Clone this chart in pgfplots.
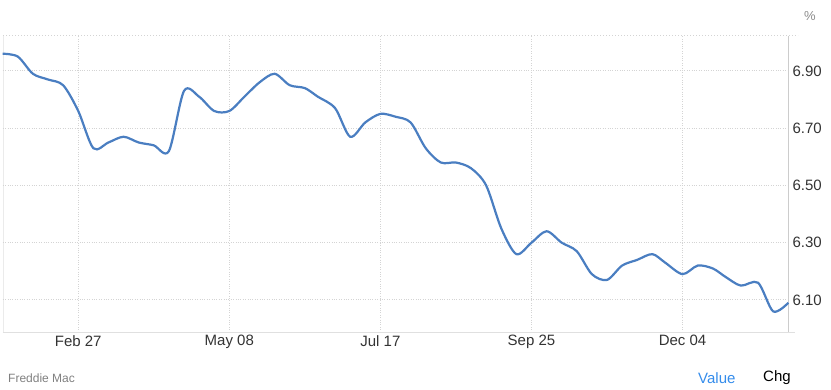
\documentclass[border=0pt]{standalone}
\usepackage{fontspec}
\setmainfont{Liberation Sans}
\usepackage{pgfplots}
\usepackage{pgfplotstable}
\pgfplotsset{compat=1.18}
\definecolor{linec}{RGB}{74,126,193}
\definecolor{gridc}{RGB}{212,212,212}
\definecolor{axc}{RGB}{204,204,204}
\definecolor{txt}{RGB}{51,51,51}
\definecolor{valc}{RGB}{52,140,235}
\pgfplotstableread{
day rate
0 6.96
7 6.95
14 6.89
21 6.87
28 6.85
35 6.76
42 6.63
49 6.65
56 6.67
63 6.65
70 6.64
77 6.62
84 6.83
91 6.81
98 6.76
105 6.76
112 6.81
119 6.86
126 6.89
133 6.85
140 6.84
146 6.81
154 6.77
161 6.67
168 6.72
175 6.75
182 6.74
189 6.72
196 6.63
203 6.58
210 6.58
217 6.56
224 6.50
231 6.35
238 6.26
245 6.30
252 6.34
259 6.30
266 6.27
273 6.19
280 6.17
287 6.22
294 6.24
301 6.26
307 6.23
315 6.19
322 6.22
329 6.21
335 6.18
342 6.15
350 6.16
357 6.06
364 6.09
}\ratedata
\begin{document}
\begin{tikzpicture}
\useasboundingbox (0pt,0pt) rectangle (831pt,390pt);
\draw[gridc, dotted, line width=1pt] (3pt,354pt) -- (798pt,354pt);
\draw[black!8] (2.7pt,58pt) -- (2.7pt,354pt);
\draw[black!12] (788pt,58pt) -- (795pt,58pt);
\begin{axis}[
  at={(2.7pt,58pt)}, anchor=south west, scale only axis,
  width=785.6pt, height=296pt,
  xmin=0, xmax=364, ymin=5.988, ymax=7.022,
  axis x line*=bottom, axis y line*=right,
  x axis line style={draw=black!12, -},
  y axis line style={draw=axc, -},
  xtick={35,105,175,245,315},
  xticklabels={Feb 27, May 08, Jul 17, Sep 25, Dec 04},
  ytick={6.1,6.3,6.5,6.7,6.9},
  yticklabels={6.10,6.30,6.50,6.70,6.90},
  major tick length=0pt,
  grid=major,
  major grid style={gridc, dotted, line width=1pt},
  tick label style={font=\fontsize{15}{18}\selectfont, text=txt},
  yticklabel style={anchor=west, inner sep=0pt, xshift=4pt},
  xticklabel style={anchor=north, inner sep=0pt, yshift=-3pt},
  /pgf/number format/assume math mode=true,
  clip=false,
]
\addplot[linec, line width=2.2pt, smooth, tension=0.5] table[x=day, y=rate] {\ratedata};
\end{axis}
\node[text=black!45, font=\fontsize{13}{15}\selectfont] at (810pt,374pt) {\%};
\node[anchor=west, inner sep=0pt, text=black!50, font=\fontsize{12}{14}\selectfont] at (8pt,12pt) {Freddie Mac};
\node[anchor=west, inner sep=0pt, text=valc, font=\fontsize{15}{18}\selectfont] at (698pt,12pt) {Value};
\node[anchor=west, inner sep=0pt, text=black, font=\fontsize{15}{18}\selectfont] at (763pt,12pt) {Chg};
\end{tikzpicture}
\end{document}
